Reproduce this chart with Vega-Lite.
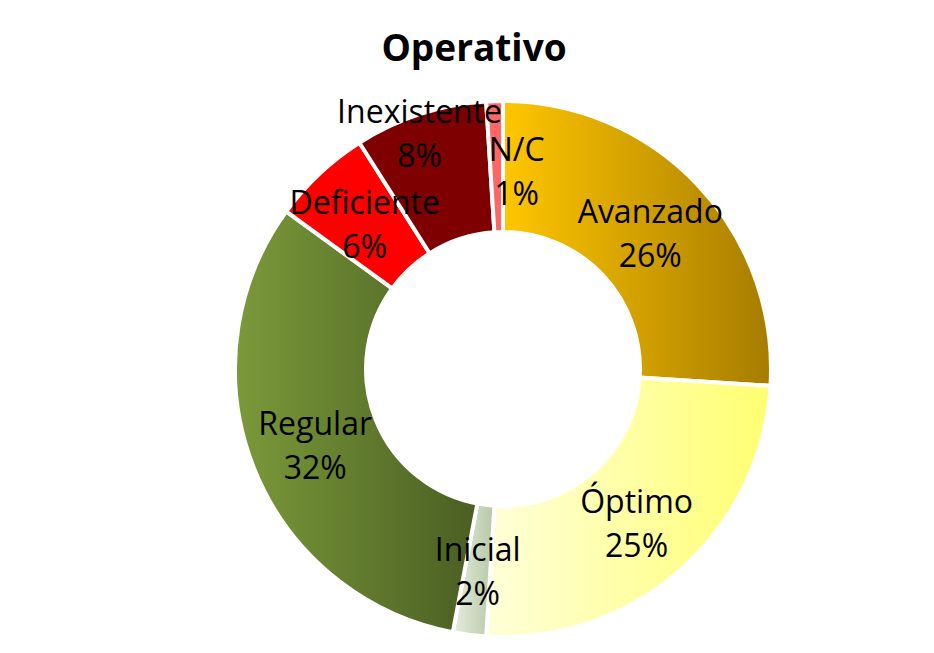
{
  "$schema": "https://vega.github.io/schema/vega-lite/v6.json",
  "autosize": {"type": "none"},
  "width": 540,
  "height": 540,
  "padding": {"left": 233, "top": 99, "right": 161, "bottom": 14},
  "background": "white",
  "config": {"view": {"stroke": null}},
  "title": {
    "text": "Operativo",
    "font": "Open Sans",
    "fontSize": 37,
    "fontWeight": "bold",
    "color": "black",
    "anchor": "middle",
    "dx": -29,
    "offset": 24
  },
  "data": {
    "values": [
      {"idx": 1, "category": "Avanzado", "value": 26},
      {"idx": 2, "category": "Óptimo", "value": 25},
      {"idx": 3, "category": "Inicial", "value": 2},
      {"idx": 4, "category": "Regular", "value": 32},
      {"idx": 5, "category": "Deficiente", "value": 6},
      {"idx": 6, "category": "Inexistente", "value": 8},
      {"idx": 7, "category": "N/C", "value": 1}
    ]
  },
  "transform": [
    {"stack": "value", "groupby": [], "sort": [{"field": "idx", "order": "ascending"}], "as": ["v0", "v1"]},
    {"calculate": "(datum.v0 + datum.v1) / 2", "as": "vmid"},
    {"calculate": "datum.category + '\\n' + datum.value + '%'", "as": "label"}
  ],
  "layer": [
    {
      "mark": {"type": "arc", "outerRadius": 268, "innerRadius": 137, "stroke": "white", "strokeWidth": 4},
      "encoding": {
        "theta": {"field": "v0", "type": "quantitative", "scale": {"domain": [0, 100]}},
        "theta2": {"field": "v1"},
        "fill": {
          "condition": [
            {"test": "datum.idx == 1", "value": {"gradient": "linear", "x1": 0, "x2": 1, "y1": 0, "y2": 0, "stops": [{"offset": 0, "color": "#FFC600"}, {"offset": 1, "color": "#A67C00"}]}},
            {"test": "datum.idx == 2", "value": {"gradient": "linear", "x1": 0, "x2": 1, "y1": 0, "y2": 0, "stops": [{"offset": 0, "color": "#FFFFDA"}, {"offset": 1, "color": "#FFFF70"}]}},
            {"test": "datum.idx == 3", "value": {"gradient": "linear", "x1": 0, "x2": 1, "y1": 0, "y2": 0, "stops": [{"offset": 0, "color": "#E6EDE0"}, {"offset": 1, "color": "#B5C8A5"}]}},
            {"test": "datum.idx == 4", "value": {"gradient": "linear", "x1": 0, "x2": 1, "y1": 0, "y2": 0, "stops": [{"offset": 0, "color": "#7B9A3A"}, {"offset": 1, "color": "#4A5E22"}]}},
            {"test": "datum.idx == 5", "value": "#FF0000"},
            {"test": "datum.idx == 6", "value": "#7F0000"}
          ],
          "value": "#FF6666"
        }
      }
    },
    {
      "transform": [{"filter": "datum.idx <= 5"}],
      "mark": {"type": "text", "radius": 202, "dy": -18, "font": "Open Sans", "fontSize": 32, "lineBreak": "\n", "lineHeight": 44, "color": "black", "align": "center", "baseline": "middle"},
      "encoding": {
        "theta": {"field": "vmid", "type": "quantitative", "scale": {"domain": [0, 100]}},
        "text": {"field": "label"}
      }
    },
    {
      "transform": [{"filter": "datum.idx == 6"}],
      "mark": {"type": "text", "radius": 202, "dx": -21, "dy": -64, "font": "Open Sans", "fontSize": 32, "lineBreak": "\n", "lineHeight": 44, "color": "black", "align": "center", "baseline": "middle"},
      "encoding": {
        "theta": {"field": "vmid", "type": "quantitative", "scale": {"domain": [0, 100]}},
        "text": {"field": "label"}
      }
    },
    {
      "transform": [{"filter": "datum.idx == 7"}],
      "mark": {"type": "text", "radius": 202, "dx": 20, "dy": -16, "font": "Open Sans", "fontSize": 32, "lineBreak": "\n", "lineHeight": 44, "color": "black", "align": "center", "baseline": "middle"},
      "encoding": {
        "theta": {"field": "vmid", "type": "quantitative", "scale": {"domain": [0, 100]}},
        "text": {"field": "label"}
      }
    }
  ]
}
